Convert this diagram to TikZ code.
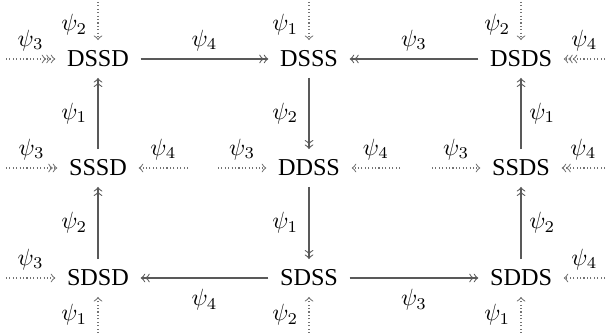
\documentclass[tikz,border=0pt]{standalone}
\usepackage{fontspec}
\setmainfont{Liberation Serif}
\usetikzlibrary{arrows.meta}
\begin{document}
\begin{tikzpicture}[x=0.425pt,y=-0.425pt,
  state/.style={inner xsep=4.8pt, inner ysep=4.4pt, font=\fontsize{10.3}{12}\selectfont},
  lab/.style={inner sep=3.333pt},
  main/.style={draw=black!65, line width=0.45pt},
  faint/.style={draw=black!55, line width=0.45pt, densely dotted},
  >=to]
\useasboundingbox (0,0) rectangle (607,335);
% states
\node[state] (DSSD) at (98,59) {DSSD};
\node[state] (DSSS) at (309,59) {DSSS};
\node[state] (DSDS) at (521,59) {DSDS};
\node[state] (SSSD) at (98,168) {SSSD};
\node[state] (DDSS) at (309,168) {DDSS};
\node[state] (SSDS) at (521,168) {SSDS};
\node[state] (SDSD) at (98,278) {SDSD};
\node[state] (SDSS) at (309,278) {SDSS};
\node[state] (SDDS) at (521,278) {SDDS};
% solid transitions
\draw[main,->>] (DSSD) -- node[lab,above]{$\psi_4$} (DSSS);
\draw[main,->>] (DSDS) -- node[lab,above]{$\psi_3$} (DSSS);
\draw[main,->>] (DSSS) -- node[lab,left=1pt]{$\psi_2$} (DDSS);
\draw[main,->>] (DDSS) -- node[lab,left=1pt]{$\psi_1$} (SDSS);
\draw[main,->>] (SSSD) -- node[lab,left=1pt]{$\psi_1$} (DSSD);
\draw[main,->>] (SDSD) -- node[lab,left=1pt]{$\psi_2$} (SSSD);
\draw[main,->>] (SSDS) -- node[lab,right]{$\psi_1$} (DSDS);
\draw[main,->>] (SDDS) -- node[lab,right]{$\psi_2$} (SSDS);
\draw[main,->>] (SDSS) -- node[lab,below=1.2pt]{$\psi_4$} (SDSD);
\draw[main,->>] (SDSS) -- node[lab,below=1.2pt]{$\psi_3$} (SDDS);
% free ends
\coordinate (a1) at (6,59);
\coordinate (a2) at (98,2);
\coordinate (b1) at (309,2);
\coordinate (c1) at (521,2);
\coordinate (c2) at (605,59);
\coordinate (d1) at (6,168);
\coordinate (d2) at (188,168);
\coordinate (e1) at (218,168);
\coordinate (e2) at (400,168);
\coordinate (f1) at (432,168);
\coordinate (f2) at (605,168);
\coordinate (g1) at (6,278);
\coordinate (g2) at (98,333);
\coordinate (h1) at (309,333);
\coordinate (i1) at (521,333);
\coordinate (i2) at (605,278);
% dotted inputs
\draw[faint,->>>] (a1) -- node[lab,above]{$\psi_3$} (DSSD);
\draw[faint,->] (a2) -- node[lab,left=1pt,pos=0.6]{$\psi_2$} (DSSD);
\draw[faint,->] (b1) -- node[lab,left=1pt,pos=0.6]{$\psi_1$} (DSSS);
\draw[faint,->] (c1) -- node[lab,left=1pt,pos=0.6]{$\psi_2$} (DSDS);
\draw[faint,->>>] (c2) -- node[lab,above]{$\psi_4$} (DSDS);
\draw[faint,->>] (d1) -- node[lab,above]{$\psi_3$} (SSSD);
\draw[faint,->] (d2) -- node[lab,above]{$\psi_4$} (SSSD);
\draw[faint,->] (e1) -- node[lab,above]{$\psi_3$} (DDSS);
\draw[faint,->] (e2) -- node[lab,above]{$\psi_4$} (DDSS);
\draw[faint,->] (f1) -- node[lab,above]{$\psi_3$} (SSDS);
\draw[faint,->>] (f2) -- node[lab,above]{$\psi_4$} (SSDS);
\draw[faint,->] (g1) -- node[lab,above]{$\psi_3$} (SDSD);
\draw[faint,->] (g2) -- node[lab,left=1pt]{$\psi_1$} (SDSD);
\draw[faint,->] (h1) -- node[lab,left=1pt]{$\psi_2$} (SDSS);
\draw[faint,->] (i1) -- node[lab,left=1pt]{$\psi_1$} (SDDS);
\draw[faint,->] (i2) -- node[lab,above]{$\psi_4$} (SDDS);
\end{tikzpicture}
\end{document}
